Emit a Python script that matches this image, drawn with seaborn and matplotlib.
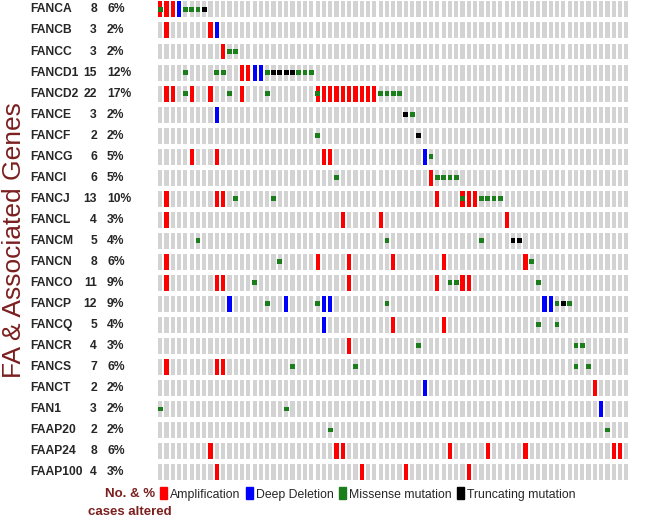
import numpy as np
import pandas as pd
import matplotlib.pyplot as plt
import seaborn as sns
from matplotlib.patches import Patch
from matplotlib.transforms import blended_transform_factory

sns.set_style("white")
plt.rcParams['font.family'] = ['Liberation Sans', 'DejaVu Sans']

# genes and summary numbers
genes = ["FANCA", "FANCB", "FANCC", "FANCD1", "FANCD2", "FANCE", "FANCF", "FANCG",
         "FANCI", "FANCJ", "FANCL", "FANCM", "FANCN", "FANCO", "FANCP", "FANCQ",
         "FANCR", "FANCS", "FANCT", "FAN1", "FAAP20", "FAAP24", "FAAP100"]
n_altered = [8, 3, 3, 15, 22, 3, 2, 6, 6, 13, 4, 5, 8, 11, 12, 5, 4, 7, 2, 3, 2, 8, 4]
pct_altered = [6, 2, 2, 12, 17, 2, 2, 5, 5, 10, 3, 4, 6, 9, 9, 4, 3, 6, 2, 2, 2, 6, 3]
n_cases = 75

# altered case indices per gene (same order as genes)
amp_cases = [[0, 1, 2], [1, 8], [10], [13, 14],
             [1, 2, 5, 8, 13, 25, 26, 27, 28, 29, 30, 31, 32, 33, 34],
             [], [], [5, 9, 26, 27], [43], [1, 9, 10, 44, 48, 49, 50],
             [1, 29, 35, 55], [], [1, 25, 30, 37, 45, 58],
             [1, 9, 10, 30, 44, 48, 49], [], [37, 45], [30], [1, 9, 10],
             [69], [], [], [8, 28, 29, 46, 52, 58, 72, 73], [9, 32, 39, 49]]
del_cases = [[3], [9], [], [15, 16], [], [9], [], [42], [], [], [], [], [], [],
             [11, 20, 26, 27, 61, 62], [26], [], [], [42], [70], [], [], []]
missense_cases = [[0, 4, 5, 6], [], [11, 12], [4, 9, 10, 17, 22, 23, 24],
                  [4, 11, 17, 25, 35, 36, 37, 38], [40], [25], [43],
                  [28, 44, 45, 46, 47], [12, 18, 48, 51, 52, 53, 54], [],
                  [6, 36, 51], [19, 59], [15, 46, 47, 60],
                  [17, 25, 36, 63, 65], [60, 63], [41, 66, 67],
                  [21, 31, 66, 68], [], [0, 20], [27, 71], [], []]
trunc_cases = [[7], [], [], [18, 19, 20, 21], [], [39], [41], [], [], [], [],
               [56, 57], [], [], [64], [], [], [], [], [], [], [], []]

rows = []
for g, (a, d, m, t) in enumerate(zip(amp_cases, del_cases, missense_cases, trunc_cases)):
    rows += [(g, c, "Amplification") for c in a]
    rows += [(g, c, "Deep Deletion") for c in d]
    rows += [(g, c, "Missense mutation") for c in m]
    rows += [(g, c, "Truncating mutation") for c in t]
events = pd.DataFrame(rows, columns=["gene", "case", "type"])

colors = {"Amplification": "#FF0000", "Deep Deletion": "#0000FF",
          "Missense mutation": "#1A7F1A", "Truncating mutation": "#000000"}

fig = plt.figure(figsize=(6.56, 5.24), dpi=100)
ax = fig.add_axes([0.2393, 0.0792, 0.7203, 0.9208])

bar_w = 0.67
bar_h = 0.76

# grey background cells
gx, gy = np.meshgrid(np.arange(n_cases), np.arange(len(genes)))
ax.bar(gx.ravel(), bar_h, bottom=gy.ravel() - bar_h / 2, width=bar_w,
       color="#D3D3D3", linewidth=0)

# copy number changes fill the whole cell
cna = events[events["type"].isin(["Amplification", "Deep Deletion"])]
ax.bar(cna["case"], bar_h, bottom=cna["gene"] - bar_h / 2, width=bar_w,
       color=cna["type"].map(colors), linewidth=0)

# mutations are small squares in the middle
muts = events[events["type"].isin(["Missense mutation", "Truncating mutation"])]
sns.scatterplot(data=muts, x="case", y="gene", hue="type", palette=colors,
                marker="s", s=12, linewidth=0, legend=False, ax=ax)

ax.set_xlim(-0.5, n_cases - 0.5)
ax.set_ylim(len(genes) - 0.5, -0.45)
ax.axis("off")

# gene labels, counts, percentages
tr = blended_transform_factory(fig.transFigure, ax.transData)
for i, g in enumerate(genes):
    ax.text(30 / 656, i, g, transform=tr, ha="left", va="center",
            fontsize=8.7, fontweight="bold")
    ax.text(97 / 656, i, str(n_altered[i]), transform=tr, ha="right", va="center",
            fontsize=8.7, fontweight="bold")
    ax.text(107 / 656, i, f"{pct_altered[i]}%", transform=tr, ha="left", va="center",
            fontsize=8.7, fontweight="bold")

dark_red = "#7B1F1F"
fig.text(14 / 656, 1 - 240 / 524, "FA & Associated Genes", rotation=90,
         ha="center", va="center", fontsize=19, color=dark_red)
fig.text(130 / 656, 1 - 494 / 524, "No. & %", ha="center", va="center",
         fontsize=9.5, fontweight="bold", color=dark_red)
fig.text(130 / 656, 1 - 512 / 524, "cases altered", ha="center", va="center",
         fontsize=9.5, fontweight="bold", color=dark_red)

handles = [Patch(color=colors[k], label=k) for k in colors]
fig.legend(handles=handles, loc="center left", bbox_to_anchor=(160 / 656, 1 - 494 / 524),
           ncol=4, frameon=False, fontsize=8.8, handlelength=0.6, handleheight=1.1,
           handletextpad=0.25, columnspacing=0.4, borderpad=0, borderaxespad=0)

fig.savefig("out.png", dpi=100)
